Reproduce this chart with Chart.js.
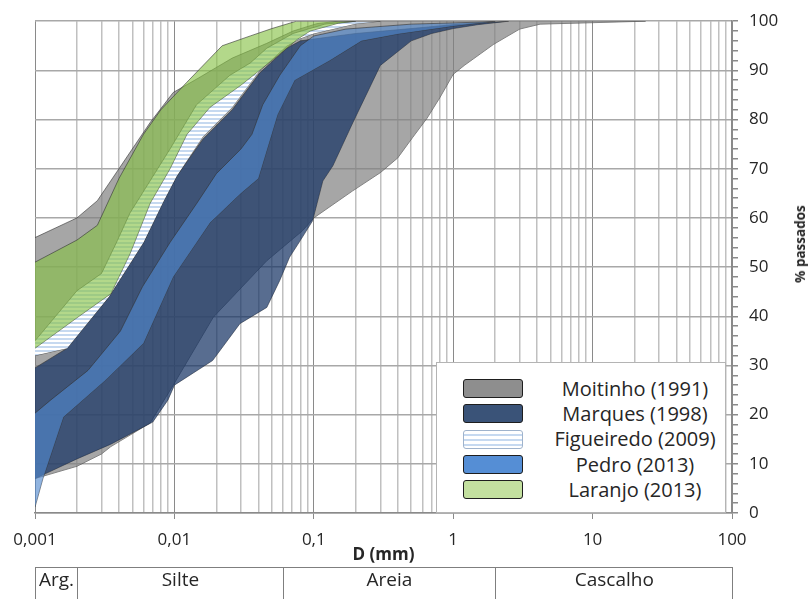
<!DOCTYPE html>
<html>
<head>
<meta charset="utf-8">
<script src="https://cdn.jsdelivr.net/npm/chart.js@4.4.1/dist/chart.umd.min.js"></script>
<style>
  html, body { margin: 0; padding: 0; background: #fff; }
  body { font-family: 'Open Sans', sans-serif; color: #262626; }
  #wrap { position: relative; width: 808px; height: 599px; overflow: hidden; }
  #legend {
    position: absolute; left: 436px; top: 362px; width: 290px; height: 151px;
    background: #fff; border: 1.5px solid #b4b4b4; box-sizing: border-box; padding-top: 13px;
  }
  .item { display: flex; align-items: center; height: 25.3px; }
  .swatch { width: 60px; height: 19px; margin-left: 26px; border: 1.5px solid #1e1e1e; border-radius: 3px; box-sizing: border-box; }
  .label { flex: 1; text-align: center; font-size: 20px; line-height: 20px; padding-left: 22px; padding-right: 0; white-space: nowrap; }
  #ytitle {
    position: absolute; left: 800px; top: 244px; transform: translate(-50%, -50%) rotate(-90deg);
    font-weight: bold; font-size: 13.5px; white-space: nowrap;
  }
  .cell {
    position: absolute; top: 567px; height: 60px; box-sizing: border-box;
    border-top: 1.5px solid #7f7f7f; border-left: 1.5px solid #7f7f7f;
    text-align: center; font-size: 19px; line-height: 19px; padding-top: 2px; white-space: nowrap;
  }
  .cell.last { border-right: 1.5px solid #7f7f7f; }
</style>
</head>
<body>
<div id="wrap">
  <canvas id="chart" width="808" height="599"></canvas>
  <div id="legend"></div>
  <div id="ytitle">% passados</div>
  <div id="classes"></div>
</div>
<script>
// Axis ticks
const xTickValues = [0.001, 0.01, 0.1, 1, 10, 100];
const xTickLabels = ['0,001', '0,01', '0,1', '1', '10', '100'];
const xMinorSteps = [1, 2, 3, 4, 5, 6, 7, 8, 9];

// Soil classes under the axis
const classNames = ['Arg.', 'Silte', 'Areia', 'Cascalho'];
const classLimits = [0.001, 0.002, 0.06, 2, 100];

const seriesNames = ['Moitinho (1991)', 'Marques (1998)', 'Figueiredo (2009)', 'Pedro (2013)', 'Laranjo (2013)'];

// Envelopes: D (mm) and % passados, upper (fine) and lower (coarse) limit
const moitinhoUpperD = [0.001, 0.002, 0.0028, 0.004, 0.0067, 0.0098, 0.015, 0.026, 0.046, 0.071, 0.105, 0.15, 24];
const moitinhoUpperP = [56, 60, 63.5, 70, 79.4, 85.5, 88.5, 92.5, 95.5, 98, 99.5, 100, 100];
const moitinhoLowerD = [0.001, 0.002, 0.003, 0.0035, 0.0067, 0.01, 0.019, 0.046, 0.083, 0.1, 0.19, 0.3, 0.4, 0.51, 0.65, 0.8, 1, 1.2, 1.95, 3, 4.2, 24];
const moitinhoLowerP = [7, 9.5, 12, 13.5, 18.3, 26.4, 39.8, 51.3, 57.4, 60, 65.5, 69.2, 72.2, 76.3, 80.3, 84.4, 89.2, 91, 95.3, 98.4, 99.4, 100];

const marquesUpperD = [0.001, 0.0017, 0.0034, 0.006, 0.0084, 0.0104, 0.016, 0.026, 0.041, 0.064, 0.08, 0.2, 0.5, 1, 2.5];
const marquesUpperP = [29.5, 33.5, 44, 55, 63.5, 68.5, 76, 82, 89.5, 94.5, 96, 97.5, 98.5, 99.3, 100];
const marquesLowerD = [0.001, 0.002, 0.0035, 0.006, 0.007, 0.009, 0.01, 0.0188, 0.0295, 0.046, 0.057, 0.067, 0.08, 0.098, 0.116, 0.137, 0.19, 0.3, 0.5, 0.7, 1, 1.5, 2.5];
const marquesLowerP = [7, 11, 14, 17.5, 18.5, 23, 26, 31, 38.5, 41.8, 47.3, 52, 55.4, 59.4, 67.5, 70.6, 79.3, 91, 96, 97.5, 98.5, 99.3, 100];

const figueiredoUpperD = [0.001, 0.002, 0.003, 0.0039, 0.0048, 0.0093, 0.0144, 0.025, 0.035, 0.046, 0.071, 0.12, 0.2, 0.3];
const figueiredoUpperP = [35, 45.2, 48.7, 55.4, 61, 74, 83, 89, 91.5, 94.5, 97.5, 99.4, 100, 100];
const figueiredoLowerD = [0.001, 0.0017, 0.0034, 0.006, 0.0084, 0.0104, 0.016, 0.026, 0.041, 0.064, 0.08, 0.1, 0.2, 0.3];
const figueiredoLowerP = [32, 33.5, 44, 55, 63.5, 68.5, 76.5, 82.5, 90, 95, 96.5, 97.5, 99.5, 100];

const pedroUpperD = [0.001, 0.0013, 0.0024, 0.0041, 0.0059, 0.0093, 0.0145, 0.02, 0.03, 0.036, 0.043, 0.057, 0.08, 0.1, 0.17, 0.5, 1.5, 2];
const pedroUpperP = [20.3, 23, 29, 37, 46, 55, 63, 69, 74, 77, 83, 89, 95, 97, 98.4, 99.4, 99.8, 100];
const pedroLowerD = [0.001, 0.00114, 0.0016, 0.0032, 0.006, 0.0098, 0.018, 0.03, 0.04, 0.055, 0.073, 0.13, 0.22, 0.4, 1, 2];
const pedroLowerP = [1.2, 7, 19.5, 27, 34.5, 48, 59, 65, 68, 81, 88, 92, 96, 97.4, 99, 100];

const laranjoUpperD = [0.001, 0.002, 0.0028, 0.004, 0.006, 0.008, 0.0122, 0.022, 0.035, 0.05, 0.075, 0.2];
const laranjoUpperP = [51, 55.5, 58.5, 68, 77, 82, 87.5, 95, 97, 98.5, 100, 100];
const laranjoLowerD = [0.001, 0.002, 0.0035, 0.0048, 0.0067, 0.0093, 0.0123, 0.018, 0.03, 0.05, 0.076, 0.094, 0.15, 0.2];
const laranjoLowerP = [33.5, 39.7, 44.6, 52.7, 63, 70, 77, 82.5, 87, 92, 96.3, 98, 99.6, 100];

// Horizontal stripes for Figueiredo
function stripePattern() {
  const tile = document.createElement('canvas');
  tile.width = 4; tile.height = 4;
  const t = tile.getContext('2d');
  t.fillStyle = '#ffffff';
  t.fillRect(0, 0, 4, 4);
  t.fillStyle = '#c6d9f0';
  t.fillRect(0, 2, 4, 2);
  return t.createPattern(tile, 'repeat');
}

const fills = [
  'rgba(128, 128, 128, 0.7)',
  'rgba(20, 49, 98, 0.71)',
  stripePattern(),
  'rgba(80, 137, 206, 0.63)',
  'rgba(134, 193, 70, 0.63)'
];
const swatches = [
  '#8e8e8e',
  '#3a5378',
  'repeating-linear-gradient(to bottom, #ffffff 0 3px, #c6d9f0 3px 5px)',
  '#558ed5',
  '#c3e09f'
];

const envelopes = [
  [moitinhoUpperD, moitinhoUpperP, moitinhoLowerD, moitinhoLowerP],
  [marquesUpperD, marquesUpperP, marquesLowerD, marquesLowerP],
  [figueiredoUpperD, figueiredoUpperP, figueiredoLowerD, figueiredoLowerP],
  [pedroUpperD, pedroUpperP, pedroLowerD, pedroLowerP],
  [laranjoUpperD, laranjoUpperP, laranjoLowerD, laranjoLowerP]
];

function pts(xs, ys) {
  return xs.map((x, i) => ({ x, y: ys[i] }));
}

const edge = 'rgba(50, 50, 50, 0.6)';
// first dataset is painted last, so Laranjo goes first
const datasets = [];
for (let i = envelopes.length - 1; i >= 0; i--) {
  const [ud, up, ld, lp] = envelopes[i];
  datasets.push({
    label: seriesNames[i],
    data: pts(ud, up),
    fill: '+1',
    backgroundColor: fills[i],
    borderColor: edge,
    borderWidth: 1,
    pointRadius: 0,
    tension: 0
  });
  datasets.push({
    label: seriesNames[i] + ' lower',
    data: pts(ld, lp),
    fill: false,
    borderColor: edge,
    borderWidth: 1,
    pointRadius: 0,
    tension: 0
  });
}

const isDecade = v => xTickValues.some(d => Math.abs(v - d) < d * 1e-6);

Chart.defaults.font.family = "'Open Sans', sans-serif";
Chart.defaults.color = '#262626';

const chart = new Chart(document.getElementById('chart'), {
  type: 'line',
  data: { datasets },
  options: {
    responsive: false,
    animation: false,
    layout: { padding: { left: 35, top: 20, right: 0, bottom: 0 } },
    plugins: { legend: { display: false }, tooltip: { enabled: false } },
    scales: {
      x: {
        type: 'logarithmic',
        min: 0.001,
        max: 100,
        afterBuildTicks: scale => {
          const ticks = [];
          xTickValues.slice(0, -1).forEach(d => {
            xMinorSteps.forEach(m => ticks.push({ value: Number((d * m).toPrecision(6)) }));
          });
          ticks.push({ value: 100 });
          scale.ticks = ticks;
        },
        afterFit: scale => { scale.height = 86; },
        ticks: {
          autoSkip: false,
          maxRotation: 0,
          padding: 11,
          font: { size: 17 },
          callback: v => {
            const i = xTickValues.findIndex(d => Math.abs(v - d) < d * 1e-6);
            return i >= 0 ? xTickLabels[i] : '';
          }
        },
        grid: {
          color: c => isDecade(c.tick.value) ? '#8a8a8a' : '#c0c0c0',
          lineWidth: c => isDecade(c.tick.value) ? 1 : 1.5,
          tickColor: c => isDecade(c.tick.value) ? '#8a8a8a' : 'rgba(0,0,0,0)',
          tickLength: 6
        },
        border: { color: '#8a8a8a', width: 1.5 },
        title: {
          display: true,
          text: 'D (mm)',
          font: { size: 17, weight: 'bold' },
          padding: { top: 0, bottom: 34 }
        }
      },
      y: {
        type: 'linear',
        position: 'right',
        min: 0,
        max: 100,
        afterFit: scale => { scale.width = 76; },
        ticks: {
          stepSize: 2,
          maxTicksLimit: 100,
          autoSkip: false,
          padding: 11,
          font: { size: 17 },
          callback: v => v % 10 === 0 ? v : ''
        },
        grid: {
          color: c => c.tick.value % 10 === 0 ? '#a8a8a8' : 'rgba(0,0,0,0)',
          lineWidth: 1.5,
          tickColor: '#8a8a8a',
          tickLength: 6
        },
        border: { color: '#8a8a8a', width: 1.5 }
      }
    }
  }
});

// HTML legend
const legend = document.getElementById('legend');
seriesNames.forEach((name, i) => {
  const row = document.createElement('div');
  row.className = 'item';
  const sw = document.createElement('div');
  sw.className = 'swatch';
  sw.style.background = swatches[i];
  if (i === 2) sw.style.borderColor = '#9fb3cc';
  const lab = document.createElement('div');
  lab.className = 'label';
  lab.textContent = name;
  row.appendChild(sw);
  row.appendChild(lab);
  legend.appendChild(row);
});

// Class table placed with the x scale
const xs = chart.scales.x;
const classes = document.getElementById('classes');
classNames.forEach((name, i) => {
  const left = xs.getPixelForValue(classLimits[i]);
  const right = xs.getPixelForValue(classLimits[i + 1]);
  const cell = document.createElement('div');
  cell.className = 'cell' + (i === classNames.length - 1 ? ' last' : '');
  cell.style.left = left + 'px';
  cell.style.width = (right - left + (i === classNames.length - 1 ? 1.5 : 0)) + 'px';
  cell.textContent = name;
  classes.appendChild(cell);
});
</script>
</body>
</html>
